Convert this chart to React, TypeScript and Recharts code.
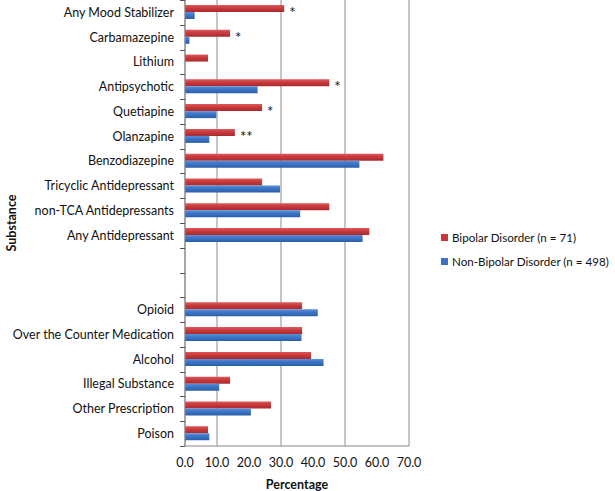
import { Bar, BarChart, CartesianGrid, LabelList, XAxis, YAxis } from "recharts";

const categories = [
  "Any Mood Stabilizer",
  "Carbamazepine",
  "Lithium",
  "Antipsychotic",
  "Quetiapine",
  "Olanzapine",
  "Benzodiazepine",
  "Tricyclic Antidepressant",
  "non-TCA Antidepressants",
  "Any Antidepressant",
  " ",
  "  ",
  "Opioid",
  "Over the Counter Medication",
  "Alcohol",
  "Illegal Substance",
  "Other Prescription",
  "Poison",
];
const bipolar = [31.0, 14.1, 7.2, 45.1, 24.1, 15.6, 62.0, 24.1, 45.1, 57.6, null, null, 36.6, 36.6, 39.4, 14.1, 26.9, 7.2];
const nonBipolar = [3.0, 1.4, 0, 22.7, 9.8, 7.6, 54.5, 29.7, 36.0, 55.5, null, null, 41.5, 36.4, 43.3, 10.7, 20.6, 7.6];
const marks = ["*", "*", "", "*", "*", "**", "", "", "", "", "", "", "", "", "", "", "", ""];
const xTicks = [0, 10, 20, 30, 40, 50, 60, 70];

const data = categories.map((name, i) => ({
  name,
  bipolar: bipolar[i],
  nonBipolar: nonBipolar[i],
  mark: marks[i],
}));

const font = "Lato, 'Open Sans', sans-serif";
const chartHeight = 491;
const xAxisHeight = 45;
const plotHeight = chartHeight - xAxisHeight;
const slot = plotHeight / categories.length;

// category ticks sit on the boundaries between rows, like the original
const CategoryTick = (props) => {
  const { x, y, payload, index } = props;
  const axisX = x + 11;
  const top = Math.round(y - slot / 2) + 0.5;
  const bottom = Math.round(y + slot / 2) + 0.5;
  return (
    <g>
      <path d={`M${axisX - 5},${top}H${axisX}`} stroke="#555" strokeWidth={1} fill="none" />
      {index === categories.length - 1 && (
        <path d={`M${axisX - 5},${bottom}H${axisX}`} stroke="#555" strokeWidth={1} fill="none" />
      )}
      <text x={x} y={y} dy="0.35em" textAnchor="end" fontSize={12.5} fill="#111" fontFamily={font}>
        {payload.value}
      </text>
    </g>
  );
};

const MarkLabel = (props) => {
  const { x, y, width, height, value } = props;
  if (!value) return null;
  return (
    <text x={x + width + 5} y={y + height + 6} fontSize={15} fill="#111" fontFamily={font}>
      {value}
    </text>
  );
};

const legendItems = [
  { label: "Bipolar Disorder (n = 71)", color: "#c9393c" },
  { label: "Non-Bipolar Disorder (n = 498)", color: "#3b74c6" },
];

export default function App() {
  return (
    <div style={{ position: "absolute", left: 0, top: 0, width: 615, height: chartHeight, background: "#fff" }}>
      <BarChart
        width={615}
        height={chartHeight}
        data={data}
        layout="vertical"
        margin={{ top: 0, right: 206, bottom: 0, left: 0 }}
        barSize={7}
        barGap={0}
      >
        <defs>
          <linearGradient id="redGrad" x1="0" y1="0" x2="0" y2="1">
            <stop offset="0%" stopColor="#dc5a5c" />
            <stop offset="45%" stopColor="#c9393c" />
            <stop offset="100%" stopColor="#a82a2d" />
          </linearGradient>
          <linearGradient id="blueGrad" x1="0" y1="0" x2="0" y2="1">
            <stop offset="0%" stopColor="#5b8fd8" />
            <stop offset="45%" stopColor="#3b74c6" />
            <stop offset="100%" stopColor="#2c5ea8" />
          </linearGradient>
        </defs>
        <CartesianGrid horizontal={false} stroke="#8c8c8c" />
        <XAxis
          type="number"
          domain={[0, 70]}
          ticks={xTicks}
          tickFormatter={(v) => v.toFixed(1)}
          tickLine={false}
          tickSize={6}
          tickMargin={6}
          height={xAxisHeight}
          axisLine={{ stroke: "#888" }}
          tick={{ fontSize: 12.5, fill: "#111", fontFamily: font }}
          label={{
            value: "Percentage",
            position: "insideBottom",
            offset: 2,
            fontSize: 12.5,
            fontWeight: "bold",
            fill: "#111",
            fontFamily: font,
          }}
        />
        <YAxis
          type="category"
          dataKey="name"
          width={185}
          tickLine={false}
          tickSize={4}
          tickMargin={7}
          axisLine={{ stroke: "#888" }}
          interval={0}
          tick={<CategoryTick />}
          label={{
            content: () => (
              <text
                x={12}
                y={223}
                transform="rotate(-90, 12, 223)"
                textAnchor="middle"
                dy="0.35em"
                fontSize={12.5}
                fontWeight="bold"
                fill="#111"
                fontFamily={font}
              >
                Substance
              </text>
            ),
          }}
        />
        <Bar dataKey="bipolar" fill="url(#redGrad)" isAnimationActive={false}>
          <LabelList dataKey="mark" content={<MarkLabel />} />
        </Bar>
        <Bar dataKey="nonBipolar" fill="url(#blueGrad)" isAnimationActive={false} />
      </BarChart>
      <div
        style={{
          position: "absolute",
          left: 441,
          top: 225,
          fontFamily: font,
          fontSize: 11.6,
          color: "#111",
          whiteSpace: "nowrap",
        }}
      >
        {legendItems.map((item) => (
          <div key={item.label} style={{ display: "flex", alignItems: "center", height: 24 }}>
            <span style={{ width: 7, height: 7, background: item.color, marginRight: 4, display: "inline-block" }} />
            <span>{item.label}</span>
          </div>
        ))}
      </div>
    </div>
  );
}
